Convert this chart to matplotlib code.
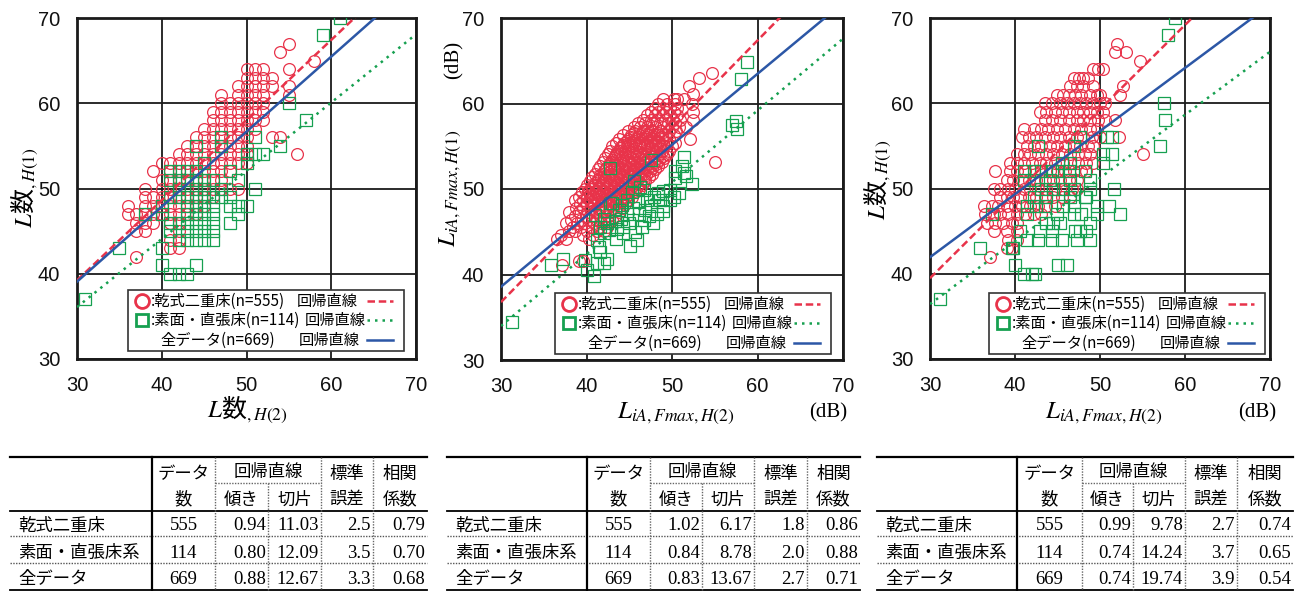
import numpy as np
import matplotlib
matplotlib.use('Agg')
import matplotlib.pyplot as plt
from matplotlib.patches import Rectangle

plt.rcParams['font.family'] = ['Liberation Sans', 'Noto Sans CJK JP']
plt.rcParams['mathtext.fontset'] = 'stix'

JP = ['Noto Sans CJK JP', 'DejaVu Sans']
SERIF = ['Liberation Serif', 'DejaVu Serif']

RED = '#e8334a'
GREEN = '#16a050'
BLUE = '#2c57a6'

# ---------- data : panel 1 (L数 H(2) vs L数 H(1)) ----------
p1_red = {
    67: [55], 66: [54], 65: [58],
    64: [50, 51, 52, 55],
    63: [50, 51, 52, 53],
    62: [49, 50, 51, 52, 53, 55],
    61: [47, 49, 50, 51, 52, 55],
    60: [47, 48, 49, 50, 51, 52],
    59: [46, 47, 48, 49, 50, 51, 52],
    58: [46, 47, 48, 49, 50, 51, 52],
    57: [45, 46, 47, 48, 49, 50, 51],
    56: [44, 45, 46, 47, 48, 49, 50, 53, 54],
    55: [43, 44, 45, 46, 47, 48, 49, 50],
    54: [42, 43, 44, 45, 46, 47, 48, 49, 50, 56],
    53: [40, 41, 42, 43, 44, 45, 46, 47, 48, 49, 50],
    52: [39, 41, 42, 43, 44, 45, 46, 47, 48],
    51: [40, 41, 42, 43, 44, 45, 46, 47],
    50: [38, 40, 41, 42, 43, 44, 45, 46, 47, 48, 49],
    49: [38, 39, 40, 41, 42, 43, 44, 45, 46],
    48: [36, 38, 39, 40, 41, 42, 43, 44, 45],
    47: [36, 37, 38, 39, 40, 41, 42, 43, 44],
    46: [37, 38, 39, 41, 42],
    45: [37, 38, 42],
    44: [41, 42],
    43: [41, 42],
    42: [37],
}
p1_green = {
    70: [61], 68: [59], 60: [55], 58: [57],
    56: [47, 51],
    55: [44, 47, 54],
    54: [50, 51, 52],
    53: [45, 50],
    52: [41, 42, 43, 44, 48],
    51: [41, 42, 43, 44, 45, 46, 49],
    50: [42, 44, 45, 47, 51],
    49: [41, 42, 43, 44, 45, 46, 47, 48],
    48: [40, 43, 44, 45, 46, 48, 49, 50],
    47: [38, 40, 43, 44, 45, 46, 49],
    46: [41, 42, 43, 44, 45, 46, 48],
    45: [41, 43, 44, 45, 46],
    44: [42, 43, 44, 45, 46],
    43: [35, 40],
    41: [40, 44],
    40: [41, 42, 43],
    37: [31],
}

# ---------- data : panel 2 (LiA,Fmax H(2) vs H(1)) ----------
p2_red = {
    41.1: [37.1], 41.6: [39.1, 39.6],
    44.2: [36.5, 37.6, 40.3],
    44.6: [37.0, 39.6, 40.8],
    45.1: [37.9, 38.7, 40.0, 41.2, 42.0],
    45.5: [38.4, 39.3, 40.6, 41.5, 42.4],
    46.0: [37.6, 38.9, 39.8, 40.9, 41.7, 42.6],
    46.4: [38.2, 39.4, 40.3, 41.2, 42.1, 43.0],
    46.9: [38.6, 39.9, 40.7, 41.6, 42.5, 43.3],
    47.3: [38.0, 39.1, 40.2, 41.0, 41.9, 42.8, 43.8],
    47.55: [40.9, 41.8, 42.7, 43.5],
    47.8: [38.8, 39.6, 40.5, 41.4, 42.3, 43.1, 44.2],
    48.2: [39.2, 40.0, 40.9, 41.7, 42.6, 43.5, 44.5],
    48.45: [40.5, 41.3, 42.2, 43.1, 44.0],
    48.7: [38.6, 39.6, 40.4, 41.2, 42.1, 43.0, 43.9, 44.9],
    48.9: [40.1, 41.0, 41.9, 42.8, 43.6, 44.5],
    49.1: [39.1, 40.0, 40.8, 41.6, 42.5, 43.4, 44.3, 45.3],
    49.35: [40.4, 41.3, 42.2, 43.1, 44.0, 44.9],
    49.6: [39.5, 40.3, 41.2, 42.0, 42.9, 43.8, 44.7, 45.7],
    49.8: [40.2, 41.1, 41.9, 42.8, 43.7, 44.6, 45.5],
    50.0: [39.8, 40.7, 41.5, 42.4, 43.3, 44.2, 45.1, 46.1],
    50.25: [40.6, 41.5, 42.4, 43.2, 44.1, 45.0, 45.9],
    50.5: [40.1, 41.0, 41.9, 42.8, 43.7, 44.6, 45.5, 46.5],
    50.7: [41.0, 41.9, 42.7, 43.6, 44.5, 45.4, 46.3],
    50.9: [40.4, 41.4, 42.3, 43.2, 44.1, 45.0, 45.9, 46.9],
    51.15: [41.3, 42.2, 43.1, 44.0, 44.9, 45.8, 46.7],
    51.4: [40.6, 41.7, 42.6, 43.5, 44.4, 45.3, 46.3, 47.3],
    51.6: [41.6, 42.5, 43.4, 44.3, 45.2, 46.1, 47.0],
    51.8: [41.0, 42.0, 42.9, 43.8, 44.8, 45.7, 46.7, 47.7],
    52.05: [42.0, 42.9, 43.8, 44.7, 45.6, 46.5, 47.4],
    52.3: [41.3, 42.3, 43.2, 44.2, 45.1, 46.1, 47.1, 48.0],
    52.5: [42.3, 43.2, 44.1, 45.0, 45.9, 46.8, 47.7],
    52.7: [41.6, 42.6, 43.6, 44.5, 45.5, 46.5, 47.5, 48.4],
    52.95: [42.6, 43.5, 44.4, 45.3, 46.2, 47.2, 48.1],
    53.2: [41.9, 42.9, 43.9, 44.9, 45.9, 46.9, 47.9, 48.8, 55.0],
    53.4: [43.0, 43.9, 44.8, 45.7, 46.6, 47.6, 48.5],
    53.6: [42.2, 43.2, 44.2, 45.2, 46.2, 47.2, 48.2, 49.1],
    53.85: [43.3, 44.2, 45.1, 46.0, 47.0, 48.0, 48.9],
    54.1: [42.5, 43.5, 44.5, 45.5, 46.5, 47.5, 48.5, 49.4],
    54.3: [43.6, 44.5, 45.4, 46.3, 47.3, 48.3],
    54.5: [42.8, 43.8, 44.8, 45.8, 46.8, 47.8, 48.8, 49.6],
    54.75: [43.9, 44.9, 45.8, 46.7, 47.7, 48.6],
    55.0: [43.0, 44.1, 45.1, 46.1, 47.1, 48.1, 49.1, 50.0],
    55.2: [44.3, 45.2, 46.1, 47.1, 48.0, 49.0],
    55.4: [43.4, 44.4, 45.4, 46.4, 47.4, 48.4, 49.4, 50.3],
    55.65: [44.7, 45.6, 46.5, 47.5, 48.4],
    55.9: [43.8, 44.8, 45.8, 46.8, 47.8, 48.8, 49.7, 52.1],
    56.1: [45.2, 46.0, 47.0, 47.9, 48.8],
    56.3: [44.3, 45.2, 46.2, 47.2, 48.2, 49.2, 50.2],
    56.55: [45.6, 46.5, 47.4, 48.4],
    56.8: [44.9, 45.7, 46.6, 47.6, 48.6, 49.6, 50.5],
    57.2: [45.5, 46.3, 47.1, 48.0, 49.0, 50.0, 50.8, 51.6],
    57.7: [46.0, 46.9, 47.7, 48.6, 49.5, 50.4],
    58.1: [46.6, 47.5, 48.3, 49.2, 50.1, 50.9, 52.5],
    58.6: [47.1, 48.0, 48.9, 49.8, 50.6],
    59.0: [47.5, 48.4, 49.3, 50.2, 52.4],
    59.5: [48.0, 48.9, 49.8, 50.6],
    59.9: [48.4, 49.4, 50.3, 52.3],
    60.5: [49.0, 50.2, 50.6, 51.4],
    61.1: [52.5], 62.1: [52.0], 63.0: [53.1], 63.6: [54.7],
}
p2_green = [
    (31.3, 34.4), (35.9, 41.1), (37.3, 41.8), (39.8, 41.7), (40.0, 40.5), (40.9, 39.8),
    (41.2, 41.3), (42.0, 41.3), (42.4, 41.8), (41.6, 42.6), (41.2, 44.0), (42.0, 44.8),
    (41.0, 47.0), (41.6, 45.6), (42.4, 46.0), (42.8, 48.4), (43.0, 48.4), (42.8, 52.5),
    (44.3, 44.8), (44.3, 45.6), (45.1, 43.3), (45.9, 44.0), (45.7, 45.0), (44.7, 48.7),
    (45.5, 50.9), (44.7, 47.1), (46.3, 50.2), (46.7, 49.9), (47.1, 48.7), (47.5, 48.0),
    (47.3, 46.8), (46.7, 46.4), (46.1, 47.1), (47.5, 53.4), (47.9, 49.1), (48.6, 48.7),
    (49.0, 48.0), (48.2, 47.1), (49.0, 47.4), (49.8, 49.9), (49.8, 48.7), (50.2, 49.1),
    (50.8, 49.5), (50.4, 52.1), (50.4, 51.3), (51.2, 52.7), (51.4, 51.9), (51.6, 51.5),
    (51.4, 53.8), (52.3, 50.6), (57.0, 57.5), (57.5, 57.9), (57.6, 57.0), (58.1, 62.9),
    (58.8, 64.8), (42.0, 46.5), (42.6, 45.2), (43.3, 46.3), (43.8, 47.5), (43.5, 44.2),
    (44.0, 46.5), (45.0, 46.0), (45.4, 47.8), (46.0, 48.6), (46.5, 45.5), (47.8, 46.0),
    (48.4, 49.5), (45.3, 49.6), (44.2, 48.1), (43.6, 45.3), (46.9, 47.6), (48.9, 49.8),
    (41.5, 43.2),
]

# ---------- data : panel 3 (LiA,Fmax H(2) vs L数 H(1)) ----------
p3_red = {
    67: [52.0], 66: [51.8, 53.1], 65: [54.7],
    64: [49.2, 49.8, 50.4],
    63: [46.9, 47.5, 48.0, 48.6],
    62: [46.5, 47.3, 48.0, 49.2, 52.7],
    61: [44.9, 45.7, 46.3, 47.1, 47.8, 48.8, 49.6, 50.0, 52.4],
    60: [43.5, 44.3, 45.3, 46.1, 46.9, 47.6, 48.4, 49.2, 50.0, 50.6],
    59: [42.9, 43.7, 44.7, 45.5, 46.3, 47.3, 48.0, 48.8, 49.6, 50.4],
    58: [43.5, 44.3, 45.3, 46.3, 47.3, 48.0, 48.8, 49.8, 50.6, 51.8],
    57: [41.0, 42.2, 43.1, 43.9, 44.9, 45.9, 46.9, 47.8, 48.8, 49.6],
    56: [40.8, 41.6, 42.5, 43.5, 44.5, 45.3, 46.3, 47.3, 48.0, 49.0, 50.0, 52.2],
    55: [41.4, 42.2, 43.1, 44.1, 44.9, 45.9, 46.9, 47.6, 48.6, 49.2],
    54: [40.2, 41.0, 41.8, 42.7, 43.7, 44.5, 45.5, 46.5, 47.4, 48.2, 48.8, 55.1],
    53: [39.4, 40.2, 41.0, 42.0, 42.9, 43.7, 44.7, 45.7, 46.5, 47.4, 48.4, 49.2],
    52: [37.6, 39.4, 40.2, 41.2, 42.2, 43.1, 44.1, 44.9, 45.9, 46.9, 47.8, 48.4],
    51: [39.0, 39.8, 40.8, 41.6, 42.5, 43.5, 44.5, 45.3, 46.3, 47.3],
    50: [37.5, 38.2, 39.2, 40.0, 41.0, 41.8, 42.7, 43.7, 44.7, 45.7, 46.7, 47.3],
    49: [38.2, 39.0, 39.8, 40.6, 41.6, 42.5, 43.5, 44.5, 45.5, 46.5],
    48: [36.3, 37.3, 38.0, 39.0, 40.0, 40.8, 41.8, 42.7, 43.7, 44.7],
    47: [36.5, 37.5, 38.2, 39.2, 40.2, 41.2, 42.2, 43.1],
    46: [36.7, 37.6, 38.6, 39.6, 40.2],
    45: [37.5, 39.0, 40.2],
    44: [39.2, 40.2],
    43: [39.0, 39.6],
    42: [37.1],
}
p3_green = {
    70: [58.8], 68: [58.0], 60: [57.5], 58: [57.6],
    56: [47.6, 50.8, 51.4],
    55: [42.7, 46.9, 57.0],
    54: [50.4, 51.4],
    53: [45.5, 46.5, 50.4],
    52: [41.0, 42.2, 43.1, 44.3, 45.1, 46.3, 48.2],
    51: [41.0, 42.2, 44.1, 46.5, 48.8],
    50: [43.1, 44.5, 45.7, 46.9, 48.8, 51.6],
    49: [42.2, 43.7, 46.5, 48.2, 48.4],
    48: [41.4, 42.5, 43.5, 45.7, 46.9, 49.6, 51.0],
    47: [37.3, 41.4, 44.9, 46.9, 47.8, 49.6, 52.4],
    46: [43.7, 44.5, 45.3, 48.8],
    45: [40.6, 42.9, 44.3, 47.1, 47.6, 48.4],
    44: [41.4, 42.7, 44.3, 45.5, 47.3, 48.8],
    43: [35.9, 39.6, 39.8],
    41: [40.0, 45.1, 46.1],
    40: [41.0, 42.0, 42.4],
    37: [31.2],
}

# ---------- regression table values ----------
counts = [555, 114, 669]
row_names = ['乾式二重床', '素面・直張床系', '全データ']
slopes = [[0.94, 0.80, 0.88], [1.02, 0.84, 0.83], [0.99, 0.74, 0.74]]
icepts = [[11.03, 12.09, 12.67], [6.17, 8.78, 13.67], [9.78, 14.24, 19.74]]
std_err = [[2.5, 3.5, 3.3], [1.8, 2.0, 2.7], [2.7, 3.7, 3.9]]
corr = [[0.79, 0.70, 0.68], [0.86, 0.88, 0.71], [0.74, 0.65, 0.54]]


def rows_to_xy(rows):
    xs = [x for y, r in rows.items() for x in r]
    ys = [y for y, r in rows.items() for x in r]
    return xs, ys


W, H = 1298, 591
fig = plt.figure(figsize=(W / 100, H / 100), dpi=100)


def px_axes(l, t, r, b):
    return fig.add_axes([l / W, 1 - b / H, (r - l) / W, (b - t) / H])


red_sets = [rows_to_xy(p1_red), rows_to_xy(p2_red), rows_to_xy(p3_red)]
green_sets = [rows_to_xy(p1_green), ([p[0] for p in p2_green], [p[1] for p in p2_green]),
              rows_to_xy(p3_green)]
boxes = [(77, 18, 416, 359), (501, 18, 843, 360), (930, 18, 1270, 359)]

for i in range(3):
    ax = px_axes(*boxes[i])
    ax.set_xlim(30, 70)
    ax.set_ylim(30, 70)
    ax.set_xticks(range(30, 71, 10))
    ax.set_yticks(range(30, 71, 10))
    ax.grid(True, color='#1a1a1a', lw=1.3)
    ax.set_axisbelow(True)
    ax.tick_params(length=0, labelsize=14.5, pad=12, colors='#111111')
    for s in ax.spines.values():
        s.set_linewidth(2)
        s.set_color('#1a1a1a')
    rx, ry = red_sets[i]
    gx, gy = green_sets[i]
    ax.plot(rx, ry, 'o', ms=8.5, mfc='none', mec=RED, mew=0.9, zorder=2)
    ax.plot(gx, gy, 's', ms=8, mfc='none', mec=GREEN, mew=0.9, zorder=3)
    xx = np.array([30.0, 70.0])
    ax.plot(xx, slopes[i][0] * xx + icepts[i][0], color=RED, lw=1.8, ls=(0, (3, 1.5)), zorder=4)
    ax.plot(xx, slopes[i][1] * xx + icepts[i][1], color=GREEN, lw=1.8, ls=(0, (1, 2)), zorder=4)
    ax.plot(xx, slopes[i][2] * xx + icepts[i][2], color=BLUE, lw=1.8, zorder=4)

# overlay in pixel coordinates for labels, legends and tables
ov = fig.add_axes([0, 0, 1, 1])
ov.set_xlim(0, W)
ov.set_ylim(H, 0)
ov.axis('off')

# axis labels
lab_L1 = r'$L$数$_{\mathit{,H(1)}}$'
lab_L2 = r'$L$数$_{\mathit{,H(2)}}$'
lab_A1 = r'$L_{\mathit{iA,Fmax,H(1)}}$'
lab_A2 = r'$L_{\mathit{iA,Fmax,H(2)}}$'
ov.text(25, 188, lab_L1, rotation=90, ha='center', va='center', fontsize=18, family=JP)
ov.text(247, 410, lab_L2, ha='center', va='center', fontsize=18, family=JP)
ov.text(450, 188, lab_A1, rotation=90, ha='center', va='center', fontsize=18, family=JP)
ov.text(454, 60, '(dB)', rotation=90, ha='center', va='center', fontsize=15, family=SERIF)
ov.text(676, 413, lab_A2, ha='center', va='center', fontsize=18, family=JP)
ov.text(828, 413, '(dB)', ha='center', va='center', fontsize=15, family=SERIF)
ov.text(878, 180, lab_L1, rotation=90, ha='center', va='center', fontsize=18, family=JP)
ov.text(1104, 413, lab_A2, ha='center', va='center', fontsize=18, family=JP)
ov.text(1257, 413, '(dB)', ha='center', va='center', fontsize=15, family=SERIF)

# legends
leg_pos = [(128, 290), (555, 293), (989, 293)]
for lx, ly in leg_pos:
    ov.add_patch(Rectangle((lx, ly), 276, 61, fc='white', ec='#333333', lw=1.2, zorder=5))
    r1, r2, r3 = ly + 11, ly + 30, ly + 50
    ov.plot([lx + 14], [r1], 'o', ms=10, mfc='none', mec=RED, mew=2, zorder=6)
    ov.plot([lx + 14], [r2], 's', ms=9, mfc='none', mec=GREEN, mew=2, zorder=6)
    ov.text(lx + 23, r1, ':乾式二重床(n=555)', va='center', fontsize=11, family=JP, zorder=6)
    ov.text(lx + 23, r2, ':素面・直張床(n=114)', va='center', fontsize=11, family=JP, zorder=6)
    ov.text(lx + 32, r3, '全データ(n=669)', va='center', fontsize=11, family=JP, zorder=6)
    ov.text(lx + 169, r1, '回帰直線', va='center', fontsize=11, family=JP, zorder=6)
    ov.text(lx + 177, r2, '回帰直線', va='center', fontsize=11, family=JP, zorder=6)
    ov.text(lx + 171, r3, '回帰直線', va='center', fontsize=11, family=JP, zorder=6)
    ov.plot([lx + 239, lx + 265], [r1, r1], color=RED, lw=1.8, ls=(0, (3, 1.5)), zorder=6)
    ov.plot([lx + 239, lx + 265], [r2, r2], color=GREEN, lw=1.8, ls=(0, (1, 2)), zorder=6)
    ov.plot([lx + 239, lx + 265], [r3, r3], color=BLUE, lw=1.8, zorder=6)

# tables
table_edges = [[10, 152, 215, 268, 321, 373, 427],
               [447, 587, 650, 702, 754, 807, 860],
               [877, 1017, 1082, 1133, 1185, 1237, 1293]]
y_top, y_sub, y_head, y_r1, y_r2, y_bot = 457, 483, 511, 536, 563, 589.5
row_y = [526, 553, 579]
for t, e in enumerate(table_edges):
    ov.plot([e[0], e[-1]], [y_top, y_top], color='black', lw=1.6)
    ov.plot([e[0], e[-1]], [y_head, y_head], color='black', lw=1.3)
    ov.plot([e[0], e[-1]], [y_bot, y_bot], color='black', lw=1.3)
    for yy in (y_r1, y_r2):
        ov.plot([e[0], e[-1]], [yy, yy], color='#555555', lw=1, ls=(0, (1, 1)))
    ov.plot([e[1], e[1]], [y_top, y_bot], color='black', lw=1.6)
    for k in (2, 4, 5):
        ov.plot([e[k], e[k]], [y_top, y_bot], color='#666666', lw=1, ls=(0, (1, 1)))
    ov.plot([e[3], e[3]], [y_sub, y_bot], color='#666666', lw=1, ls=(0, (1, 1)))
    ov.plot([e[2], e[4]], [y_sub, y_sub], color='#666666', lw=1, ls=(0, (1, 1)))

    c = [(e[k] + e[k + 1]) / 2 for k in range(6)]
    hkw = dict(ha='center', va='center', fontsize=12.5, family=JP)
    ov.text(c[1], 474, 'データ', **hkw)
    ov.text(c[1], 499, '数', **hkw)
    ov.text(e[3], 472, '回帰直線', **hkw)
    ov.text(c[2], 500, '傾き', **hkw)
    ov.text(c[3], 500, '切片', **hkw)
    ov.text(c[4], 474, '標準', **hkw)
    ov.text(c[4], 499, '誤差', **hkw)
    ov.text(c[5], 474, '相関', **hkw)
    ov.text(c[5], 499, '係数', **hkw)
    for r in range(3):
        ov.text(e[0] + 8, row_y[r], row_names[r], ha='left', va='center', fontsize=12.5, family=JP)
        nkw = dict(va='center', fontsize=13.5, family=SERIF)
        ov.text(c[1], row_y[r], str(counts[r]), ha='center', **nkw)
        ov.text(e[3] - 2, row_y[r], f'{slopes[t][r]:.2f}', ha='right', **nkw)
        ov.text(e[4] - 2, row_y[r], f'{icepts[t][r]:.2f}', ha='right', **nkw)
        ov.text(e[5] - 2, row_y[r], f'{std_err[t][r]:.1f}', ha='right', **nkw)
        ov.text(e[6] - 2, row_y[r], f'{corr[t][r]:.2f}', ha='right', **nkw)

fig.savefig('out.png', dpi=100)
